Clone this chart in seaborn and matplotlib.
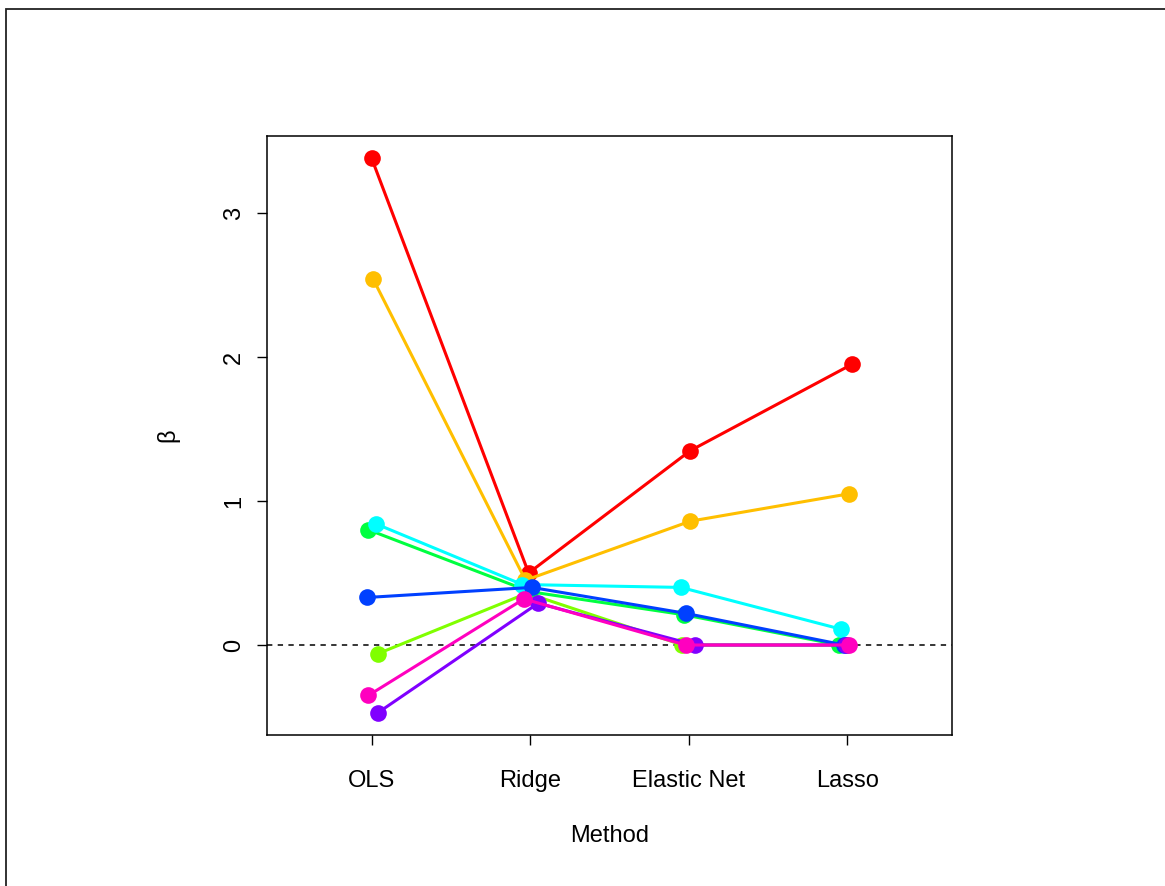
import numpy as np
import pandas as pd
import matplotlib
matplotlib.use("Agg")
import matplotlib.pyplot as plt
from matplotlib.patches import Rectangle
import seaborn as sns

# Coefficient estimates per method for eight predictors
methods = ["OLS", "Ridge", "Elastic Net", "Lasso"]
predictors = ["x1", "x2", "x3", "x4", "x5", "x6", "x7", "x8"]
colors = ["#FF0000", "#FFBF00", "#80FF00", "#00FF40",
          "#00FFFF", "#0040FF", "#8000FF", "#FF00BF"]

beta_x1 = [3.38, 0.50, 1.35, 1.95]
beta_x2 = [2.54, 0.45, 0.86, 1.05]
beta_x3 = [-0.06, 0.36, 0.00, 0.00]
beta_x4 = [0.80, 0.37, 0.21, 0.00]
beta_x5 = [0.84, 0.42, 0.40, 0.11]
beta_x6 = [0.33, 0.40, 0.22, 0.00]
beta_x7 = [-0.47, 0.29, 0.00, 0.00]
beta_x8 = [-0.35, 0.32, 0.00, 0.00]

# horizontal jitter applied to each point (in category units)
jitter_x1 = [0.00, -0.01, 0.01, 0.03]
jitter_x2 = [0.01, -0.03, 0.01, 0.01]
jitter_x3 = [0.04, -0.02, -0.04, 0.00]
jitter_x4 = [-0.02, 0.00, -0.03, -0.05]
jitter_x5 = [0.03, -0.05, -0.05, -0.04]
jitter_x6 = [-0.03, 0.01, -0.02, -0.02]
jitter_x7 = [0.04, 0.05, 0.04, -0.01]
jitter_x8 = [-0.02, -0.04, -0.02, 0.01]

betas = [beta_x1, beta_x2, beta_x3, beta_x4, beta_x5, beta_x6, beta_x7, beta_x8]
jitters = [jitter_x1, jitter_x2, jitter_x3, jitter_x4,
           jitter_x5, jitter_x6, jitter_x7, jitter_x8]

rows = []
for name, b, j in zip(predictors, betas, jitters):
    for k, (m, v, d) in enumerate(zip(methods, b, j)):
        rows.append({"predictor": name, "x": k + 1 + d, "beta": v, "order": k})
df = pd.DataFrame(rows)

sns.set_style("white")
plt.rcParams["font.family"] = ["Liberation Sans", "DejaVu Sans"]
plt.rcParams["text.color"] = "black"
plt.rcParams["axes.labelcolor"] = "black"

fig = plt.figure(figsize=(11.65, 8.86), dpi=100)
ax = fig.add_axes([267 / 1165, 1 - 735 / 886, (952 - 267) / 1165, (735 - 136) / 886])

ax.axhline(0, color="black", lw=1.1, ls=(0, (3.5, 3.5)), zorder=0)

sns.lineplot(data=df, x="x", y="beta", hue="predictor", hue_order=predictors,
             palette=colors, sort=False, estimator=None, units="predictor",
             marker="o", markersize=12, markeredgewidth=0, lw=2.2,
             legend=False, ax=ax)

ax.set_xlim(0.34, 4.66)
ax.set_ylim(-0.625, 3.535)
ax.set_xticks(range(1, 5))
ax.set_xticklabels(methods)
ax.set_yticks([0, 1, 2, 3])
ax.set_yticklabels(["0", "1", "2", "3"], rotation=90, va="center")
ax.tick_params(axis="both", which="both", direction="out", length=7, width=1,
               labelsize=17, color="black", labelcolor="black",
               left=True, bottom=True)
ax.tick_params(axis="x", pad=18)
ax.tick_params(axis="y", pad=9)
for s in ax.spines.values():
    s.set_visible(True)
    s.set_color("black")
    s.set_linewidth(1.1)

ax.set_xlabel("Method", fontsize=17, labelpad=24)
ax.set_ylabel("β", fontsize=17, labelpad=31)

# outer frame
fig.patches.append(Rectangle((6 / 1165, -0.1), 1.2, 1 - 9 / 886 + 0.1,
                             transform=fig.transFigure, fill=False,
                             edgecolor="#222222", lw=1.3))

fig.savefig("out.png", dpi=100)
